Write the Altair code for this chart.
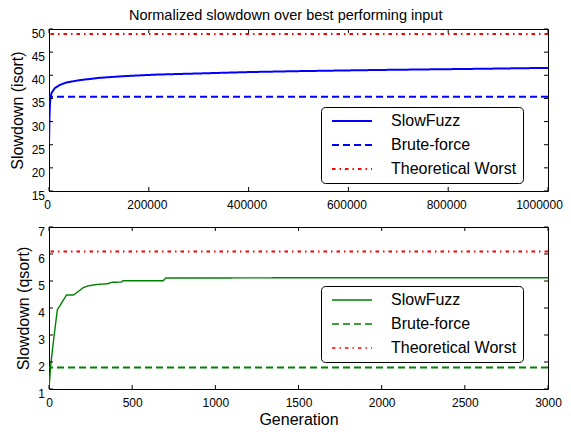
import altair as alt
import pandas as pd

FONT = "Liberation Sans"
series_names = ["SlowFuzz", "Brute-force", "Theoretical Worst"]

# Top panel (isort)
isort_gen = [0, 1000, 2000, 3000, 4800, 11400, 21400, 35000, 61500, 101600,
             148000, 215000, 302000, 402000, 502000, 662000, 862000, 1000000]
isort_slowfuzz = [25.0, 31.0, 34.0, 35.0, 36.1, 37.2, 37.9, 38.45, 38.95, 39.45,
                  39.8, 40.15, 40.4, 40.7, 40.9, 41.15, 41.4, 41.6]
isort_brute = 35.35
isort_worst = 48.9
isort_xticks = [0, 200000, 400000, 600000, 800000, 1000000]
isort_yticks = [15, 20, 25, 30, 35, 40, 45, 50]

# Bottom panel (qsort)
qsort_gen = [0, 10, 30, 50, 60, 105, 145, 165, 205, 235, 285, 355, 375, 435,
             445, 686, 702, 846, 1500, 3000]
qsort_slowfuzz = [1.0, 1.87, 2.94, 3.93, 4.03, 4.48, 4.48, 4.56, 4.75, 4.82,
                  4.87, 4.9, 4.95, 4.96, 5.01, 5.01, 5.11, 5.11, 5.12, 5.12]
qsort_brute = 1.8
qsort_worst = 6.09
qsort_xticks = [0, 500, 1000, 1500, 2000, 2500, 3000]
qsort_yticks = [1, 2, 3, 4, 5, 6, 7]

W, H = 499, 162
TICK = 4


def panel(gen, slow, brute, worst, xmax, ymin, ymax, xticks, yticks, col,
          ytitle, xtitle, slow_w, leg_y, sym_w, xlab_off, ytitle_pad):
    df_line = pd.DataFrame({"gen": gen, "val": slow, "series": "SlowFuzz"})
    df_flat = pd.DataFrame({"val": [brute, worst],
                            "series": ["Brute-force", "Theoretical Worst"]})
    legend = alt.Legend(
        title=None, orient="none", legendX=272, legendY=leg_y,
        direction="vertical", symbolType="stroke", symbolSize=1600,
        symbolStrokeWidth=sym_w, labelFont=FONT, labelFontSize=16,
        labelColor="black", labelOffset=18, padding=6, rowPadding=8,
        clipHeight=16, symbolOffset=4, strokeColor="black",
        fillColor="white", cornerRadius=4,
    )
    color = alt.Color("series:N", scale=alt.Scale(domain=series_names,
                      range=[col, col, "#ff0000"]), legend=legend)
    dash = alt.StrokeDash("series:N", scale=alt.Scale(domain=series_names,
                          range=[[1, 0], [7, 4], [3.5, 4, 1.5, 4]]), legend=legend)
    xscale = alt.Scale(domain=[0, xmax], nice=False, zero=False)
    yscale = alt.Scale(domain=[ymin, ymax], nice=False, zero=False)
    xaxis_kw = dict(values=xticks, ticks=False, tickSize=0, domain=False,
                    grid=False, labelFont=FONT, labelFontSize=12,
                    labelColor="black", labelPadding=8, labelFlush=False,
                    labelOverlap=False, labelOffset=xlab_off,
                    titleFont=FONT, titleFontSize=16, titleFontWeight="normal",
                    titleColor="black", titlePadding=3, format="d")
    if xtitle:
        xaxis = alt.Axis(title=xtitle, **xaxis_kw)
    else:
        xaxis = alt.Axis(title="", **xaxis_kw)
    yaxis = alt.Axis(values=yticks, ticks=False, tickSize=0, domain=False,
                     grid=False, labels=False,
                     title=ytitle, titleFont=FONT, titleFontSize=16,
                     titleFontWeight="normal", titleColor="black",
                     titlePadding=ytitle_pad)
    line = alt.Chart(df_line).mark_line(strokeWidth=slow_w, clip=True).encode(
        x=alt.X("gen:Q", scale=xscale, axis=xaxis),
        y=alt.Y("val:Q", scale=yscale, axis=yaxis),
        color=color, strokeDash=dash,
    )
    flat = alt.Chart(df_flat).mark_rule(strokeWidth=2).encode(
        y=alt.Y("val:Q"), color=color, strokeDash=dash,
    )
    xt = pd.DataFrame({"gen": xticks})
    yt = pd.DataFrame({"val": yticks})
    tx_b = alt.Chart(xt).mark_rule(color="black", strokeWidth=1).encode(
        x=alt.X("gen:Q"), y=alt.value(H), y2=alt.value(H - TICK))
    tx_t = alt.Chart(xt).mark_rule(color="black", strokeWidth=1).encode(
        x=alt.X("gen:Q"), y=alt.value(0), y2=alt.value(TICK))
    ty_l = alt.Chart(yt).mark_rule(color="black", strokeWidth=1).encode(
        y=alt.Y("val:Q"), x=alt.value(0), x2=alt.value(TICK))
    ty_r = alt.Chart(yt).mark_rule(color="black", strokeWidth=1).encode(
        y=alt.Y("val:Q"), x=alt.value(W - TICK), x2=alt.value(W))
    ylab = alt.Chart(yt).mark_text(
        align="right", baseline="middle", font=FONT, fontSize=12,
        color="black", dy=5).encode(
        y=alt.Y("val:Q"), x=alt.value(-4), text=alt.Text("val:Q", format="d"))
    return alt.layer(line, flat, tx_b, tx_t, ty_l, ty_r, ylab).properties(
        width=W, height=H)


top_off = {"condition": {"test": "datum.value == 1000000", "value": -9},
           "value": -2}
top = panel(isort_gen, isort_slowfuzz, isort_brute, isort_worst, 1000000,
            15, 50, isort_xticks, isort_yticks, "#0000ff",
            "Slowdown (isort)", None, 2, 78, 2, top_off, 24)
bottom = panel(qsort_gen, qsort_slowfuzz, qsort_brute, qsort_worst, 3000,
               1, 7, qsort_xticks, qsort_yticks, "#008000",
               "Slowdown (qsort)", "Generation", 1.4, 59, 1.6, 0, 18)

chart = alt.vconcat(top, bottom, spacing=14).resolve_scale(
    color="independent", strokeDash="independent", x="independent",
    y="independent").resolve_legend(
    color="independent", strokeDash="independent").properties(
    title=alt.Title("Normalized slowdown over best performing input",
                    font=FONT, fontSize=14.5, fontWeight="normal",
                    color="black", anchor="middle", offset=4),
    padding={"left": 0, "top": 0, "right": 0, "bottom": 0},
).configure_view(stroke="black", strokeWidth=1).configure_axis(
    labelOverlap=False, labelFlush=False)

chart.save("out.html", embed_options={"renderer": "svg", "actions": False})
